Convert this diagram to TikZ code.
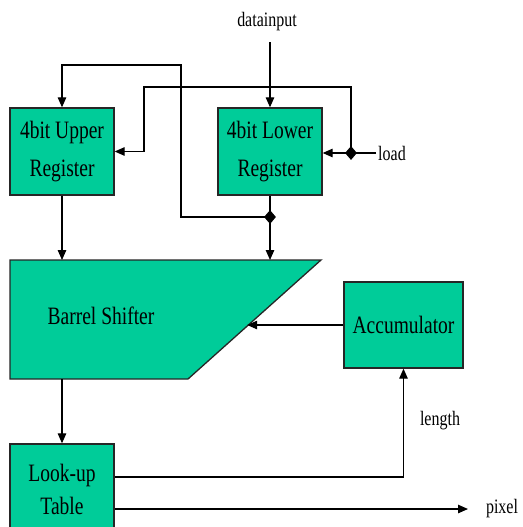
\documentclass[tikz,border=0pt]{standalone}
\usepackage{fontspec}
\setmainfont{Liberation Serif}[FakeStretch=0.78]
\usetikzlibrary{arrows.meta,calc,shapes.geometric}
\definecolor{boxgreen}{RGB}{0,204,153}
\begin{document}
\begin{tikzpicture}[x=1pt,y=-1pt,
  box/.style={draw=black!85,line width=1.3pt,fill=boxgreen},
  blk/.style={box,inner sep=0pt,align=center,font=\fontsize{25}{38}\selectfont},
  lbl/.style={inner sep=2pt,font=\fontsize{20.5}{22}\selectfont},
  wire/.style={line width=1.2pt},
  arr/.style={wire,-{Triangle[length=10pt,width=8.5pt]}},
  dot/.style={diamond,fill=black,inner sep=0pt,minimum width=12pt,minimum height=14pt}]
\useasboundingbox (0,0) rectangle (522,527);
\clip (0,0) rectangle (522,527);
% blocks
\node[blk,minimum width=104pt,minimum height=87pt] (upper) at (62,151.5) {4bit Upper\\Register};
\node[blk,minimum width=104pt,minimum height=87pt] (lower) at (270,151.5) {4bit Lower\\Register};
\node[blk,minimum width=119pt,minimum height=86pt] (acc) at (403.5,325) {Accumulator};
\node[blk,minimum width=104pt,minimum height=91pt,font=\fontsize{25}{33}\selectfont] (lut) at (62,489.5) {Look-up\\Table};
% barrel shifter
\coordinate (btl) at (10,260);
\coordinate (btr) at (321,260);
\coordinate (bbr) at (188,379);
\coordinate (bbl) at (10,379);
\draw[box] (btl) -- (btr) -- (bbr) -- (bbl) -- cycle;
\node[inner sep=0pt,font=\fontsize{25}{28}\selectfont] (bstext) at (101,316) {Barrel Shifter};
\coordinate (slant) at ($(btr)!0.555!(bbr)$);
% labels
\node[lbl] (data) at (267,22) {datainput};
\node[lbl] (load) at (392,153) {load};
\node[lbl] (len) at (440,421) {length};
\node[lbl] (pixel) at (502,509) {pixel};
% helper coordinates
\coordinate (fbdot) at (270,217);
\coordinate (fbturn) at (181,65);
\coordinate (loaddot) at (351,153);
\coordinate (loadturn) at (144,87);
\coordinate (pixend) at (468,509);
% connectors
\draw[arr,shorten <=9pt] (data.south -| lower.north) -- (lower.north);
\draw[arr] (lower.south) -- (lower.south |- btl);
\draw[arr] (upper.south) -- (upper.south |- btl);
\draw[arr] (fbdot) -| (fbturn) -| (upper.north);
\draw[arr] (load.west) -- (load.west -| lower.east);
\draw[arr] (loaddot) |- (loadturn) |- (upper.east);
\draw[arr] (acc.west) -- (slant |- acc.west);
\draw[arr] (upper.south |- bbl) -- (lut.north);
\draw[arr] ([yshift=12.5pt]lut.east) -| (acc.south);
\draw[arr] ([yshift=-19.5pt]lut.east) -- (pixend);
\node[dot] (d1) at (fbdot) {};
\node[dot] (d2) at (loaddot) {};
\end{tikzpicture}
\end{document}
